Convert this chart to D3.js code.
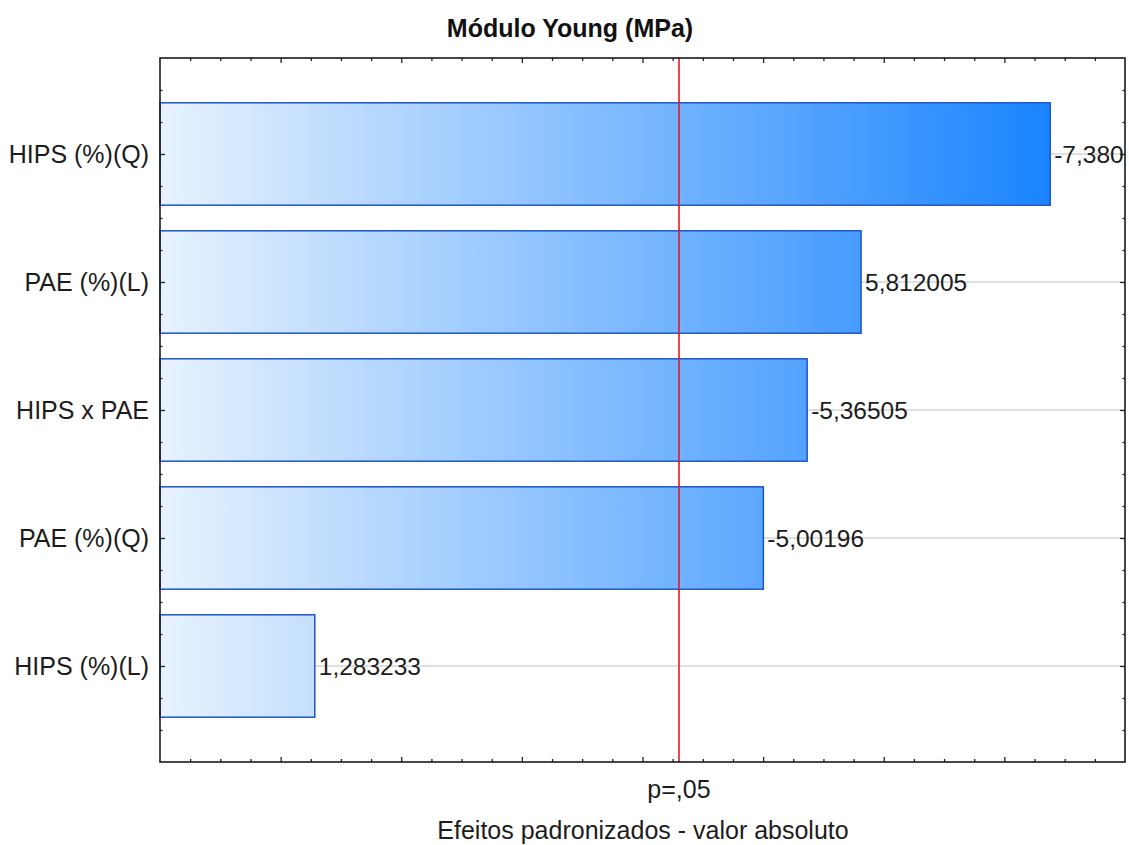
<!DOCTYPE html>
<html>
<head>
<meta charset="utf-8">
<script src="https://cdn.jsdelivr.net/npm/d3@7"></script>
<style>
  html, body { margin: 0; padding: 0; background: #fff; }
  svg { display: block; font-family: "Liberation Sans", Arial, sans-serif; }
</style>
</head>
<body>
<svg id="chart" width="1129" height="845"></svg>
<script>
// Pareto of standardized effects, top to bottom
const categories = ["HIPS (%)(Q)", "PAE (%)(L)", "HIPS x PAE", "PAE (%)(Q)", "HIPS (%)(L)"];
const effects = [-7.380, 5.812005, -5.36505, -5.00196, 1.283233];
const valueLabels = ["-7,380", "5,812005", "-5,36505", "-5,00196", "1,283233"];
const pCritical = 4.302653;           // |t| at p = .05
const pLabel = "p=,05";
const titleText = "Módulo Young (MPa)";
const xTitleText = "Efeitos padronizados - valor absoluto";

const svg = d3.select("#chart");
const plot = { left: 160, right: 1125, top: 58, bottom: 762 };

const x = d3.scaleLinear().domain([0, 8]).range([plot.left, plot.right]);
// categories sit at positions 1..5, with a quarter-band margin top and bottom
const y = d3.scaleLinear().domain([0.25, categories.length + 0.75]).range([plot.top, plot.bottom]);
const pos = categories.map((c, i) => i + 1);
const barHalf = 0.4;

// horizontal gradient shared by all bars, laid out in plot space
const defs = svg.append("defs");
const grad = defs.append("linearGradient")
  .attr("id", "barFill")
  .attr("gradientUnits", "userSpaceOnUse")
  .attr("x1", x(0)).attr("y1", 0)
  .attr("x2", x(d3.max(effects, Math.abs))).attr("y2", 0);
grad.append("stop").attr("offset", "0%").attr("stop-color", "#e8f3fe");
grad.append("stop").attr("offset", "100%").attr("stop-color", "#1a84ff");

// grid lines at each category
svg.append("g").selectAll("line")
  .data(pos)
  .join("line")
  .attr("x1", plot.left).attr("x2", plot.right)
  .attr("y1", d => y(d)).attr("y2", d => y(d))
  .attr("stroke", "#d4d4d4").attr("stroke-width", 1.5);

// bars
svg.append("g").selectAll("rect")
  .data(effects)
  .join("rect")
  .attr("x", x(0))
  .attr("y", (d, i) => y(pos[i] - barHalf))
  .attr("width", d => x(Math.abs(d)) - x(0))
  .attr("height", (d, i) => y(pos[i] + barHalf) - y(pos[i] - barHalf))
  .attr("fill", "url(#barFill)")
  .attr("stroke", "#1f55cc")
  .attr("stroke-width", 1.5);

// value labels at the bar ends
svg.append("g")
  .selectAll("text")
  .data(effects)
  .join("text")
  .attr("x", d => x(Math.abs(d)) + 4)
  .attr("y", (d, i) => y(pos[i]))
  .attr("dy", "0.36em")
  .attr("font-size", 24.5)
  .attr("fill", "#1c1c1c")
  .text((d, i) => valueLabels[i]);

// critical value line
svg.append("line")
  .attr("x1", x(pCritical)).attr("x2", x(pCritical))
  .attr("y1", plot.top).attr("y2", plot.bottom)
  .attr("stroke", "#dc1a24").attr("stroke-width", 1.6);

// inward tick marks on all four sides
const minorX = d3.range(0.25, 8, 0.25).filter(v => Math.abs(v - Math.round(v)) > 1e-9);
const majorX = d3.range(1, 8, 1);
const minorY = d3.range(0.5, categories.length + 0.75, 0.25).filter(v => Math.abs(v - Math.round(v)) > 1e-9);

function ticks(axis, tr, values, size) {
  const g = svg.append("g").attr("transform", tr)
    .call(axis.tickValues(values).tickSize(-size).tickFormat(""));
  g.select(".domain").remove();
  g.selectAll(".tick line").attr("stroke", "#222").attr("stroke-width", 1.3);
  return g;
}
ticks(d3.axisBottom(x), `translate(0,${plot.bottom})`, minorX, 3);
ticks(d3.axisBottom(x), `translate(0,${plot.bottom})`, majorX, 5);
ticks(d3.axisTop(x), `translate(0,${plot.top})`, minorX, 3);
ticks(d3.axisTop(x), `translate(0,${plot.top})`, majorX, 5);
ticks(d3.axisLeft(y), `translate(${plot.left},0)`, minorY, 2.5);
ticks(d3.axisRight(y), `translate(${plot.right},0)`, minorY, 2.5);
ticks(d3.axisRight(y), `translate(${plot.right},0)`, pos, 5);

// left axis with category names
const yAxis = svg.append("g").attr("transform", `translate(${plot.left},0)`)
  .call(d3.axisLeft(y).tickValues(pos).tickSize(-5).tickPadding(11)
    .tickFormat((d, i) => categories[i]));
yAxis.select(".domain").remove();
yAxis.selectAll(".tick line").attr("stroke", "#222").attr("stroke-width", 1.3);
yAxis.selectAll(".tick text")
  .attr("font-size", 25).attr("fill", "#1c1c1c")
  .attr("font-family", "'Liberation Sans', Arial, sans-serif");

// plot frame
svg.append("rect")
  .attr("x", plot.left).attr("y", plot.top)
  .attr("width", plot.right - plot.left).attr("height", plot.bottom - plot.top)
  .attr("fill", "none").attr("stroke", "#1a1a1a").attr("stroke-width", 1.6);

// texts
svg.append("text")
  .attr("x", 570).attr("y", 37)
  .attr("text-anchor", "middle")
  .attr("font-size", 25).attr("font-weight", "bold").attr("fill", "#111")
  .text(titleText);

svg.append("text")
  .attr("x", x(pCritical)).attr("y", 798)
  .attr("text-anchor", "middle")
  .attr("font-size", 25).attr("fill", "#1c1c1c")
  .text(pLabel);

svg.append("text")
  .attr("x", 643).attr("y", 839)
  .attr("text-anchor", "middle")
  .attr("font-size", 25).attr("fill", "#1c1c1c")
  .text(xTitleText);
</script>
</body>
</html>
